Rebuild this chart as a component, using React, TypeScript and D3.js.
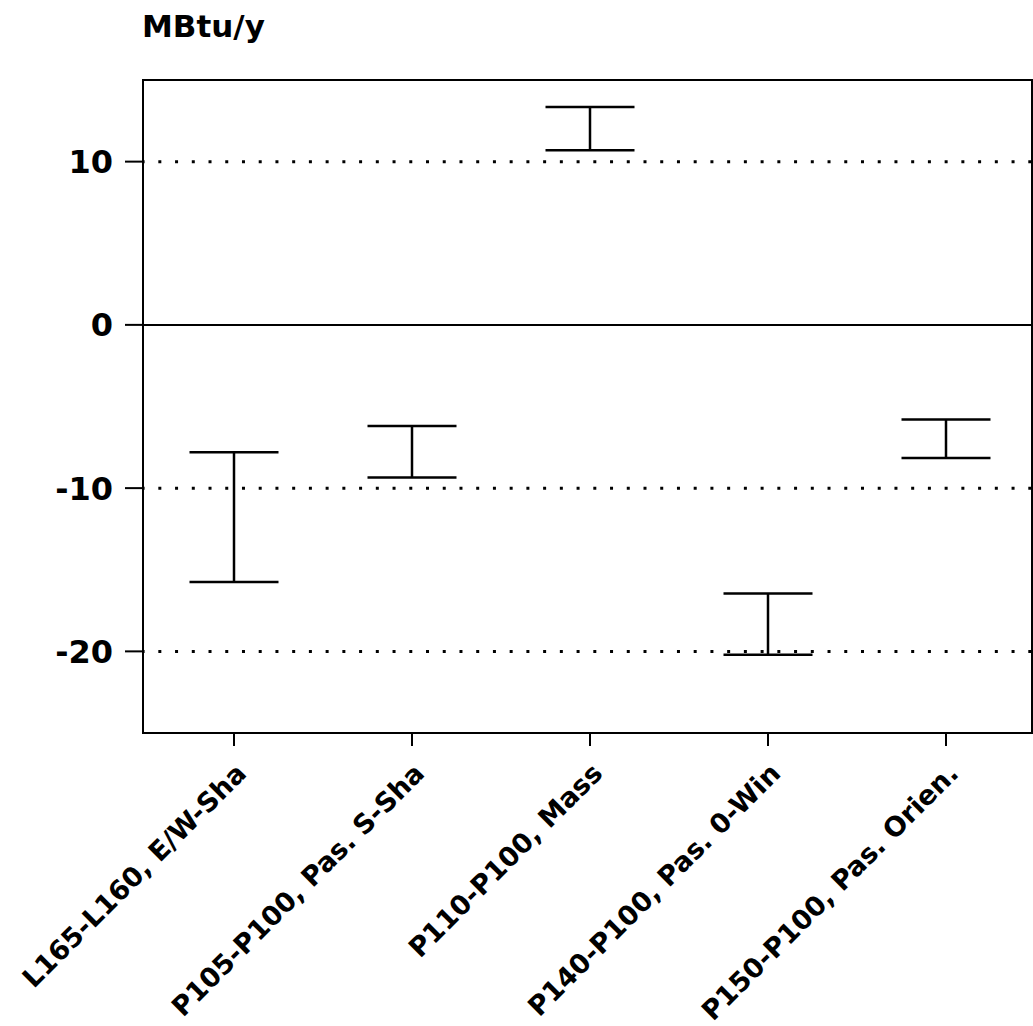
import React from "react";
import * as d3 from "d3";

const categories: string[] = [
  "L165-L160, E/W-Sha",
  "P105-P100, Pas. S-Sha",
  "P110-P100, Mass",
  "P140-P100, Pas. 0-Win",
  "P150-P100, Pas. Orien.",
];
const upperValues: number[] = [-7.8, -6.2, 13.35, -16.45, -5.8];
const lowerValues: number[] = [-15.75, -9.35, 10.7, -20.2, -8.15];
const yTicks: number[] = [10, 0, -10, -20];
const dottedLevels: number[] = [10, -10, -20];
const yLabel = "MBtu/y";

const W = 1033;
const H = 1026;
const left = 143;
const right = 1032;
const top = 80;
const bottom = 733;
const FONT = "'DejaVu Sans', sans-serif";

export default function App() {
  const x = d3.scaleBand<string>().domain(categories).range([145, 1035]).padding(0);
  const y = d3.scaleLinear().domain([-25, 15]).range([bottom, top]);
  const bw = x.bandwidth();
  const cx = (c: string) => (x(c) as number) + bw / 2;
  const capHalf = bw * 0.25;

  return (
    <svg
      width={W}
      height={H}
      style={{ position: "absolute", left: 0, top: 0, background: "#fff" }}
    >
      <rect x={0} y={0} width={W} height={H} fill="#fff" />
      <text x={142} y={37} fontFamily={FONT} fontWeight="bold" fontSize={31} fill="#000">
        {yLabel}
      </text>

      {/* dotted grid lines */}
      {dottedLevels.map((v) => (
        <line
          key={"d" + v}
          x1={left}
          x2={right}
          y1={y(v)}
          y2={y(v)}
          stroke="#000"
          strokeWidth={3}
          strokeDasharray="3 13.73"
          strokeDashoffset={1.4}
        />
      ))}

      {/* zero line */}
      <line x1={left} x2={right} y1={y(0)} y2={y(0)} stroke="#000" strokeWidth={2} />

      {/* frame */}
      <rect
        x={left}
        y={top}
        width={right - left}
        height={bottom - top}
        fill="none"
        stroke="#000"
        strokeWidth={2}
      />

      {/* y ticks and labels */}
      {yTicks.map((v) => (
        <g key={"y" + v}>
          <line x1={125} x2={left} y1={y(v)} y2={y(v)} stroke="#000" strokeWidth={2} />
          <text
            x={113}
            y={y(v)}
            dy="0.36em"
            textAnchor="end"
            fontFamily={FONT}
            fontWeight="bold"
            fontSize={32}
            fill="#000"
          >
            {v}
          </text>
        </g>
      ))}

      {/* x ticks and labels */}
      {categories.map((c) => (
        <g key={"x" + c}>
          <line x1={cx(c)} x2={cx(c)} y1={bottom} y2={bottom + 13} stroke="#000" strokeWidth={2} />
          <text
            transform={`translate(${cx(c) + 14},${bottom + 42}) rotate(-45)`}
            textAnchor="end"
            fontFamily={FONT}
            fontWeight="bold"
            fontSize={27}
            fill="#000"
          >
            {c}
          </text>
        </g>
      ))}

      {/* error bars */}
      {categories.map((c, i) => {
        const xc = cx(c);
        const yt = y(upperValues[i]);
        const yb = y(lowerValues[i]);
        return (
          <g key={"e" + c} stroke="#000" strokeWidth={2.5}>
            <line x1={xc} x2={xc} y1={yt} y2={yb} />
            <line x1={xc - capHalf} x2={xc + capHalf} y1={yt} y2={yt} />
            <line x1={xc - capHalf} x2={xc + capHalf} y1={yb} y2={yb} />
          </g>
        );
      })}
    </svg>
  );
}
